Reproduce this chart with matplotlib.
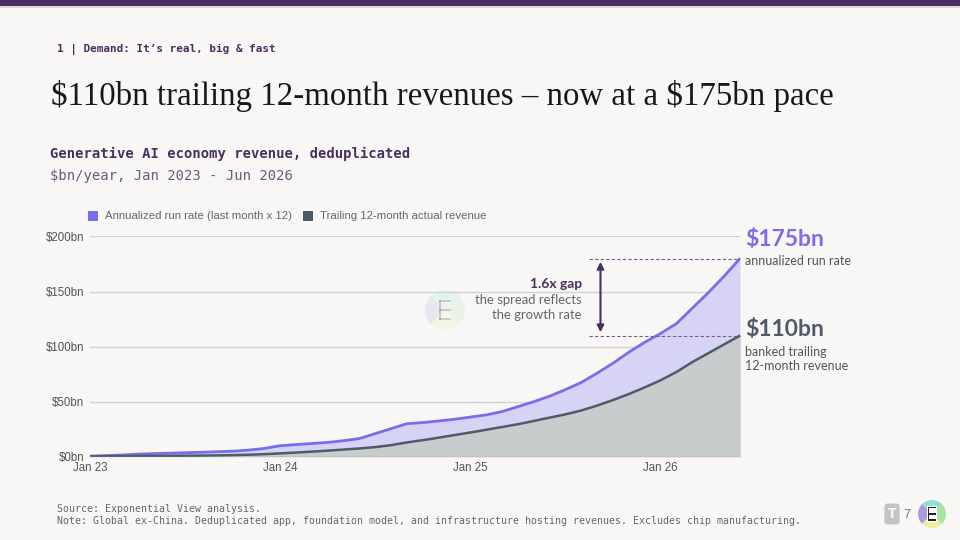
import numpy as np
import matplotlib
matplotlib.use("Agg")
import matplotlib.pyplot as plt
from matplotlib.patches import Rectangle, Wedge

plt.rcParams["text.parse_math"] = False

# ---- data (monthly, Jan 2023 .. Jun 2026) ----
run_rate = [0.5, 1.0, 1.5, 2.3, 2.8, 3.2, 3.6, 4.0, 4.5, 5.0, 6.0, 7.5,
            10.0, 11.0, 12.0, 13.0, 14.5, 16.5, 21.0, 25.5, 30.0, 31.0, 32.5, 34.0,
            36.0, 38.0, 41.0, 45.5, 50.0, 55.0, 61.0, 67.5, 76.0, 85.0, 95.0, 104.0,
            112.0, 121.0, 135.0, 149.0, 164.0, 180.0]
trailing = [0.3, 0.4, 0.5, 0.6, 0.7, 0.8, 0.9, 1.0, 1.2, 1.4, 1.8, 2.3,
            3.0, 3.8, 4.6, 5.5, 6.5, 7.5, 8.7, 10.5, 13.0, 15.0, 17.3, 19.7,
            22.0, 24.5, 27.0, 29.5, 32.5, 35.5, 38.5, 42.0, 46.5, 51.5, 57.0, 63.0,
            69.5, 77.0, 86.0, 94.0, 102.0, 110.0]
xtick_pos = [0, 12, 24, 36]
xtick_labels = ["Jan 23", "Jan 24", "Jan 25", "Jan 26"]
ytick_vals = [0, 50, 100, 150, 200]
ytick_labels = ["$0bn", "$50bn", "$100bn", "$150bn", "$200bn"]
series_names = ["Annualized run rate (last month x 12)", "Trailing 12-month actual revenue"]
run_end_label, trail_end_label = "$175bn", "$110bn"

BG = "#F8F7F5"
PURPLE = "#7A6DEB"
PURPLE_FILL = "#D6D3F5"
SLATE = "#4F5B69"
SLATE_FILL = "#C9CCCD"
DARK_PURPLE = "#4A2F5E"
GRAY_TXT = "#666666"

W, H = 960, 540
fig = plt.figure(figsize=(9.6, 5.4), dpi=100, facecolor=BG)

def fx(px):
    return px / W

def fy(py):
    return 1 - py / H

# top bar
fig.patches.append(Rectangle((0, fy(6)), 1, 6 / H, transform=fig.transFigure,
                             facecolor="#4B2C5E", edgecolor="none", zorder=5))
fig.patches.append(Rectangle((0, fy(8)), 1, 2 / H, transform=fig.transFigure,
                             facecolor="#d9d6dc", edgecolor="none", zorder=4))

mono = "DejaVu Sans Mono"
fig.text(fx(57), fy(49), "1 | Demand: It’s real, big & fast", family=mono, weight="bold",
         fontsize=7.9, color=DARK_PURPLE, va="center", ha="left")
fig.text(fx(51), fy(96), "$110bn trailing 12-month revenues – now at a $175bn pace",
         family="Liberation Serif", fontsize=23.7, color="#15191e", va="center", ha="left")
fig.text(fx(50), fy(154), "Generative AI economy revenue, deduplicated", family=mono,
         weight="bold", fontsize=10, color=DARK_PURPLE, va="center", ha="left")
fig.text(fx(50), fy(176), "$bn/year, Jan 2023 - Jun 2026", family=mono,
         fontsize=10, color="#6b5b7b", va="center", ha="left")

# logo helper (decorative circle split in four colours)
def logo(cx, cy, r, alpha):
    lax = fig.add_axes([fx(cx - r), fy(cy + r), 2 * r / W, 2 * r / H])
    lax.set_xlim(-1, 1); lax.set_ylim(-1, 1); lax.axis("off")
    cols = ["#8fe0d8", "#a99de0", "#e9f0a0", "#a8e6a0"]
    for i, c in enumerate(cols):
        lax.add_patch(Wedge((0, 0), 1, 45 + 90 * i, 135 + 90 * i, facecolor=c,
                            edgecolor="none", alpha=alpha))
    lax.add_patch(Rectangle((-0.35, -0.55), 0.7, 1.1, facecolor="white", edgecolor="none", alpha=alpha))
    for yy in (-0.5, -0.05, 0.4):
        lax.add_patch(Rectangle((-0.3, yy), 0.6, 0.12, facecolor="#222222", edgecolor="none", alpha=alpha))
    lax.add_patch(Rectangle((-0.3, -0.5), 0.12, 1.02, facecolor="#222222", edgecolor="none", alpha=alpha))

# axes
x0, x1 = 90, 740
ytop, ybot = 236.5, 456.7
ax = fig.add_axes([fx(x0), fy(ybot), fx(x1) - fx(x0), (ybot - ytop) / H])
ax.set_facecolor("none")
x = np.arange(len(run_rate))
ax.fill_between(x, 0, run_rate, color=PURPLE_FILL, lw=0, zorder=2)
ax.fill_between(x, 0, trailing, color=SLATE_FILL, lw=0, zorder=3)
ax.plot(x, run_rate, color=PURPLE, lw=2.0, zorder=5, solid_capstyle="round")
ax.plot(x, trailing, color=SLATE, lw=1.8, zorder=5, solid_capstyle="round")
ax.set_xlim(0, len(run_rate) - 1)
ax.set_ylim(0, 200)
for v in ytick_vals[1:]:
    ax.axhline(v, color="#d3d3d3", lw=1.0, zorder=1)
ax.axhline(0, color="#9a9a9a", lw=1.0, zorder=6)
ax.set_yticks(ytick_vals, ytick_labels)
ax.set_xticks(xtick_pos, xtick_labels)
ax.tick_params(length=0, labelsize=8.3, labelcolor="#555555", pad=4)
ax.tick_params(axis="x", pad=4)
for lab in ax.get_xticklabels() + ax.get_yticklabels():
    lab.set_family("Liberation Sans")
for s in ax.spines.values():
    s.set_visible(False)

# dashed guide lines + arrow
last = len(run_rate) - 1
ax.plot([31.5, last], [run_rate[-1], run_rate[-1]], ls=(0, (3, 2)), color="#7a5a9a", lw=0.8, zorder=7, clip_on=False)
ax.plot([31.5, last], [trailing[-1], trailing[-1]], ls=(0, (3, 2)), color="#7a5a9a", lw=0.8, zorder=7, clip_on=False)
ax.annotate("", xy=(32.2, run_rate[-1] - 3), xytext=(32.2, trailing[-1] + 3),
            arrowprops=dict(arrowstyle="<|-|>", color=DARK_PURPLE, lw=1.5,
                            mutation_scale=10, shrinkA=0, shrinkB=0), zorder=8)

# faint watermark
logo(445, 310, 20, 0.18)

# legend (manual)
sans = "Liberation Sans"
fig.patches.append(Rectangle((fx(88), fy(221)), 10 / W, 10 / H, transform=fig.transFigure,
                             facecolor=PURPLE, edgecolor="none"))
fig.text(fx(105), fy(216), series_names[0], family=sans, fontsize=8.2, color=GRAY_TXT, va="center")
fig.patches.append(Rectangle((fx(303), fy(221)), 10 / W, 10 / H, transform=fig.transFigure,
                             facecolor=SLATE, edgecolor="none"))
fig.text(fx(320), fy(216), series_names[1], family=sans, fontsize=8.2, color=GRAY_TXT, va="center")

# gap annotation
lato = "Lato"
fig.text(fx(582), fy(284), "1.6x gap", family=lato, weight="bold", fontsize=10,
         color=DARK_PURPLE, ha="right", va="center")
fig.text(fx(582), fy(300), "the spread reflects", family=lato, fontsize=9.4,
         color=GRAY_TXT, ha="right", va="center")
fig.text(fx(582), fy(315), "the growth rate", family=lato, fontsize=9.4,
         color=GRAY_TXT, ha="right", va="center")

# end labels
fig.text(fx(745), fy(240), run_end_label, family=lato, weight="bold", fontsize=16.5,
         color=PURPLE, ha="left", va="center")
fig.text(fx(745), fy(261), "annualized run rate", family=lato, fontsize=9,
         color="#555555", ha="left", va="center")
fig.text(fx(745), fy(329), trail_end_label, family=lato, weight="bold", fontsize=16.5,
         color=SLATE, ha="left", va="center")
fig.text(fx(745), fy(352), "banked trailing", family=lato, fontsize=9,
         color="#555555", ha="left", va="center")
fig.text(fx(745), fy(366), "12-month revenue", family=lato, fontsize=9,
         color="#555555", ha="left", va="center")

# footer
fig.text(fx(57), fy(509), "Source: Exponential View analysis.", family=mono, fontsize=7.15,
         color=GRAY_TXT, va="center")
fig.text(fx(57), fy(521), "Note: Global ex-China. Deduplicated app, foundation model, and "
         "infrastructure hosting revenues. Excludes chip manufacturing.", family=mono,
         fontsize=7.15, color=GRAY_TXT, va="center")
fig.text(fx(892), fy(514), "T", family=sans, weight="bold", fontsize=10, color="white",
         va="center", ha="center",
         bbox=dict(boxstyle="round,pad=0.25", facecolor="#c4c4c4", edgecolor="none"))
fig.text(fx(907), fy(515), "7", family=sans, fontsize=9, color="#777777", va="center", ha="center")
logo(932, 514, 14, 1.0)

fig.savefig("out.png", dpi=100, facecolor=BG)
